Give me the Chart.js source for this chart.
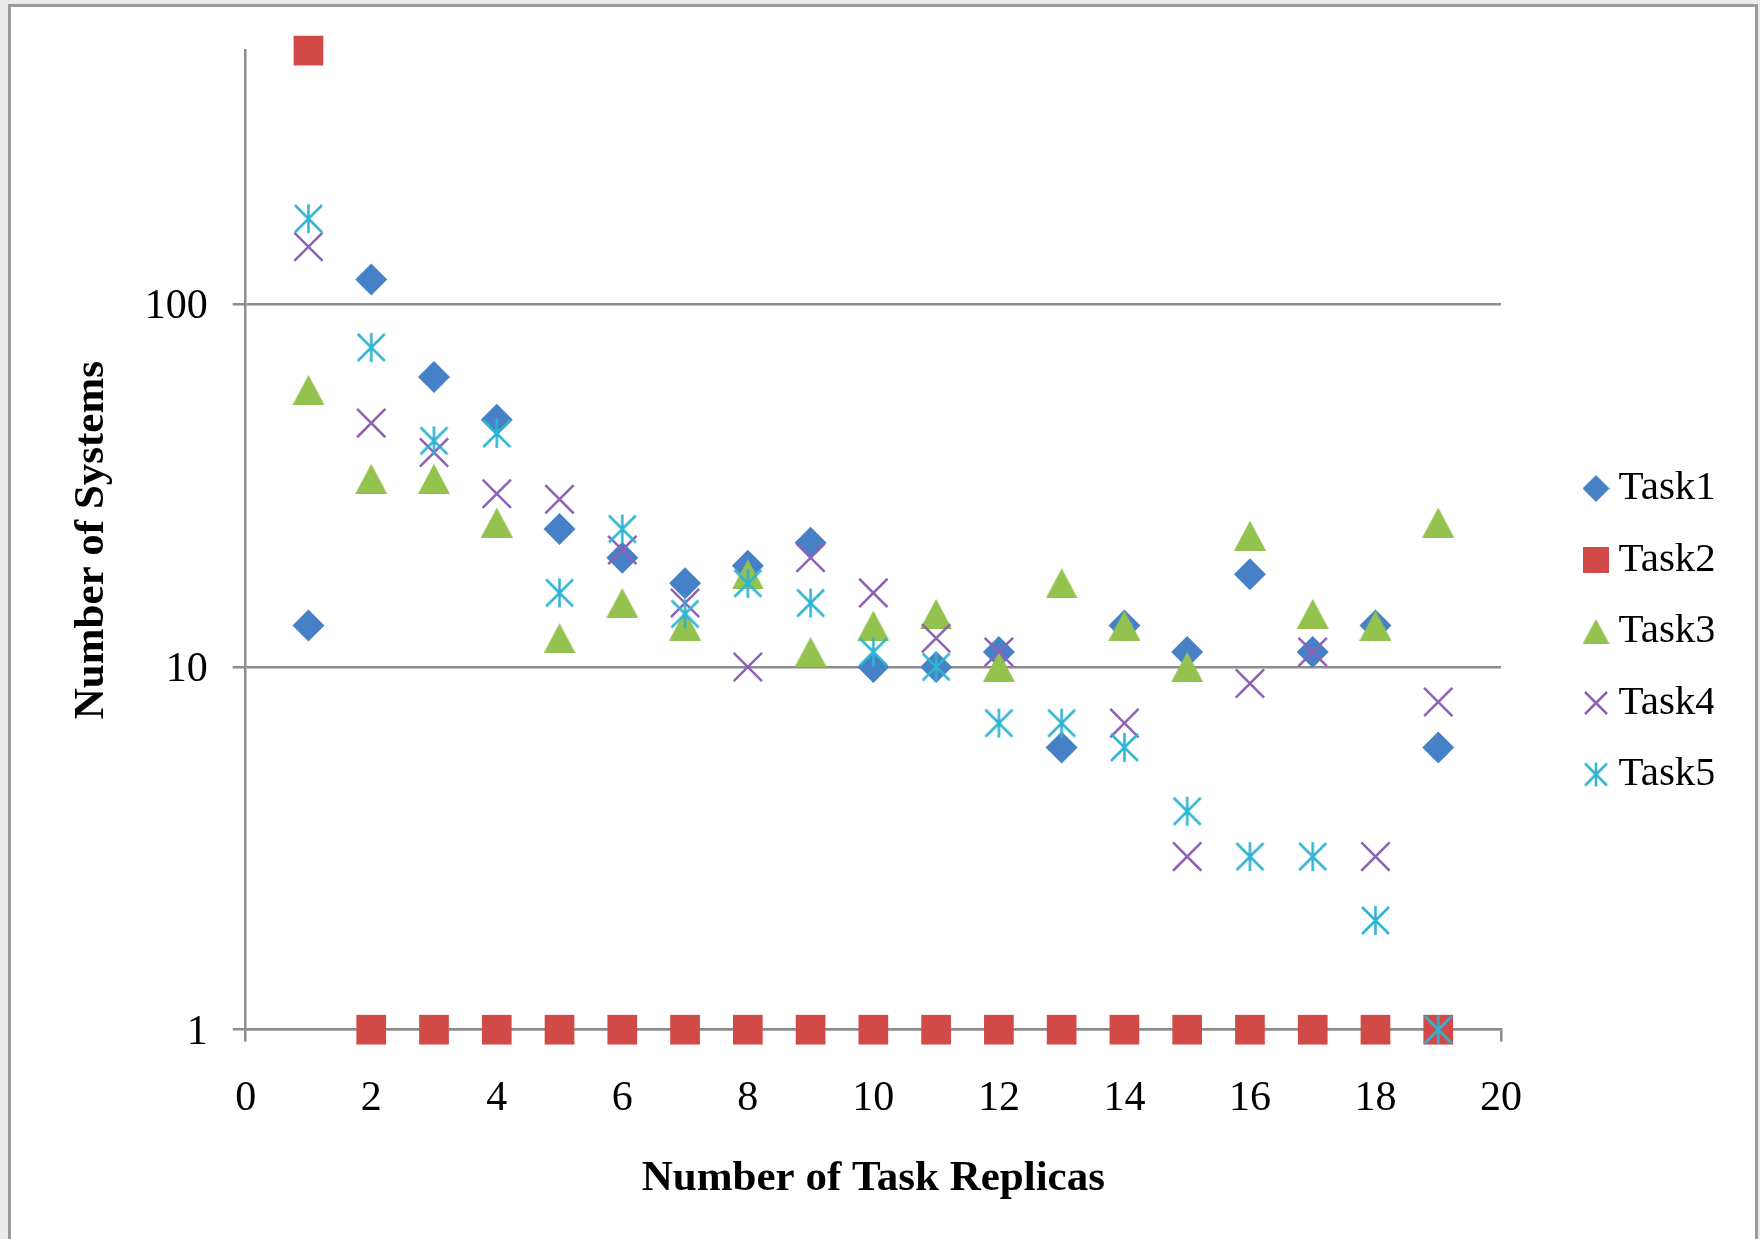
<!DOCTYPE html>
<html>
<head>
<meta charset="utf-8">
<script src="https://cdn.jsdelivr.net/npm/chart.js@4/dist/chart.umd.min.js"></script>
<style>
  html, body { margin: 0; padding: 0; background: #ebebeb; overflow: hidden; }
  #frame { position: absolute; left: 8px; top: 4px; width: 1744px; height: 1260px; background: #fff; border: 3px solid #9b9b9b; border-bottom: none; }
  #chart { position: absolute; left: 0; top: 0; }
</style>
</head>
<body>
<div id="frame"></div>
<canvas id="chart" width="1760" height="1239"></canvas>
<script>
// values
const replicas = [1, 2, 3, 4, 5, 6, 7, 8, 9, 10, 11, 12, 13, 14, 15, 16, 17, 18, 19];
const task1 = [13, 117, 63, 48, 24, 20, 17, 19, 22, 10, 10, 11, 6, 13, 11, 18, 11, 13, 6];
const task2 = [500, 1, 1, 1, 1, 1, 1, 1, 1, 1, 1, 1, 1, 1, 1, 1, 1, 1, 1];
const task3 = [58, 33, 33, 25, 12, 15, 13, 18, 11, 13, 14, 10, 17, 13, 10, 23, 14, 13, 25];
const task4 = [144, 47, 39, 30, 29, 21, 15, 10, 20, 16, 12, 11, null, 7, 3, 9, 11, 3, 8];
const task5 = [172, 76, 42, 44, 16, 24, 14, 17, 15, 11, 10, 7, 7, 6, 4, 3, 3, 2, 1];
const taskNames = ['Task1', 'Task2', 'Task3', 'Task4', 'Task5'];
const yTicks = [1, 10, 100];

const colors = ['#4680C6', '#D24A48', '#93C24F', '#8D62B5', '#2FB4D2'];
const gridColor = '#8c8c8c';

// plot box in page pixels
const padBottom = 26.6;
const plotBottom = 1029.7;

Chart.defaults.font.family = '"Liberation Serif", "Times New Roman", serif';
Chart.defaults.color = '#000';

// small canvases used as marker images
function markerCanvas(w, h, draw) {
    const c = document.createElement('canvas');
    c.width = w;
    c.height = h;
    draw(c.getContext('2d'), w, h);
    return c;
}
function triangleMark(color, w, h) {
    return markerCanvas(w, h, (ctx) => {
        ctx.fillStyle = color;
        ctx.beginPath();
        ctx.moveTo(w / 2, 0);
        ctx.lineTo(w, h);
        ctx.lineTo(0, h);
        ctx.closePath();
        ctx.fill();
    });
}
function diamondMark(color, s) {
    return markerCanvas(s, s, (ctx) => {
        ctx.fillStyle = color;
        ctx.beginPath();
        ctx.moveTo(s / 2, 0);
        ctx.lineTo(s, s / 2);
        ctx.lineTo(s / 2, s);
        ctx.lineTo(0, s / 2);
        ctx.closePath();
        ctx.fill();
    });
}
function squareMark(color, s) {
    return markerCanvas(s, s, (ctx) => {
        ctx.fillStyle = color;
        ctx.fillRect(0, 0, s, s);
    });
}
function crossMark(color, s, withBar) {
    return markerCanvas(s, s, (ctx) => {
        const m = 2;
        ctx.strokeStyle = color;
        ctx.lineWidth = 2.5;
        ctx.beginPath();
        ctx.moveTo(m, m); ctx.lineTo(s - m, s - m);
        ctx.moveTo(s - m, m); ctx.lineTo(m, s - m);
        if (withBar) {
            ctx.moveTo(s / 2, m - 1); ctx.lineTo(s / 2, s - m + 1);
        }
        ctx.stroke();
    });
}

const legendMarks = [
    diamondMark(colors[0], 27),
    squareMark(colors[1], 26),
    triangleMark(colors[2], 27, 25),
    crossMark(colors[3], 26, false),
    crossMark(colors[4], 26, true)
];

function toPoints(values) {
    return replicas.map((x, i) => ({ x: x, y: values[i] }));
}

const datasets = [
    { label: taskNames[0], data: toPoints(task1), pointStyle: 'rectRot', pointRadius: 16,
      backgroundColor: colors[0], borderColor: colors[0], borderWidth: 0 },
    { label: taskNames[1], data: toPoints(task2), pointStyle: 'rect', pointRadius: 21,
      backgroundColor: colors[1], borderColor: colors[1], borderWidth: 0 },
    { label: taskNames[2], data: toPoints(task3), pointStyle: triangleMark(colors[2], 32, 30),
      backgroundColor: colors[2], borderColor: colors[2] },
    { label: taskNames[3], data: toPoints(task4), pointStyle: 'crossRot', pointRadius: 20,
      backgroundColor: colors[3], borderColor: colors[3], borderWidth: 2.5 },
    { label: taskNames[4], data: toPoints(task5), pointStyle: crossMark(colors[4], 31, true),
      backgroundColor: colors[4], borderColor: colors[4] }
];
// later series are painted on top, like the original
datasets.forEach((d, i) => { d.showLine = false; d.clip = false; d.order = datasets.length - i; });

new Chart(document.getElementById('chart'), {
    type: 'scatter',
    data: { datasets },
    options: {
        responsive: false,
        animation: false,
        layout: { padding: { left: 20, top: 50.6, right: 46.5, bottom: padBottom } },
        plugins: {
            tooltip: { enabled: false },
            legend: {
                position: 'right',
                maxWidth: 150,
                labels: {
                    usePointStyle: true,
                    boxWidth: 4,
                    boxHeight: 20,
                    padding: 30.5,
                    color: '#000',
                    font: { size: 41 },
                    sort: (a, b) => a.datasetIndex - b.datasetIndex,
                    generateLabels: (chart) => Chart.defaults.plugins.legend.labels.generateLabels(chart)
                        .map(item => Object.assign(item, { pointStyle: legendMarks[item.datasetIndex], fontColor: '#000' }))
                }
            }
        },
        scales: {
            x: {
                type: 'linear',
                min: 0,
                max: 20,
                afterFit: (s) => { s.height = 1239 - padBottom - plotBottom; },
                ticks: { stepSize: 2, font: { size: 42 }, color: '#000', padding: 32 },
                grid: { drawOnChartArea: false, color: gridColor, lineWidth: 2.5, tickLength: 12 },
                border: { color: gridColor, width: 2.5 },
                title: { display: true, text: 'Number of Task Replicas', color: '#000',
                         font: { size: 43, weight: 'bold' }, padding: { top: 0, bottom: 7.5 } }
            },
            y: {
                type: 'logarithmic',
                min: 1,
                max: 500,
                afterBuildTicks: (s) => { s.ticks = yTicks.map(v => ({ value: v })); },
                afterFit: (s) => { s.width = 225.7; },
                ticks: { callback: (v) => String(v), font: { size: 42 }, color: '#000', padding: 25, labelOffset: 3 },
                grid: { color: gridColor, lineWidth: 2.5, tickLength: 13 },
                border: { color: gridColor, width: 2.5 },
                title: { display: true, text: 'Number of Systems', color: '#000',
                         font: { size: 43, weight: 'bold' }, padding: { top: 46.5, bottom: 0 } }
            },
            // empty axis: keeps the gap between the plot and the legend
            gap: {
                type: 'linear',
                position: 'right',
                afterFit: (s) => { s.width = 62.5; },
                ticks: { display: false },
                grid: { display: false },
                border: { display: false }
            }
        }
    }
});
</script>
</body>
</html>
